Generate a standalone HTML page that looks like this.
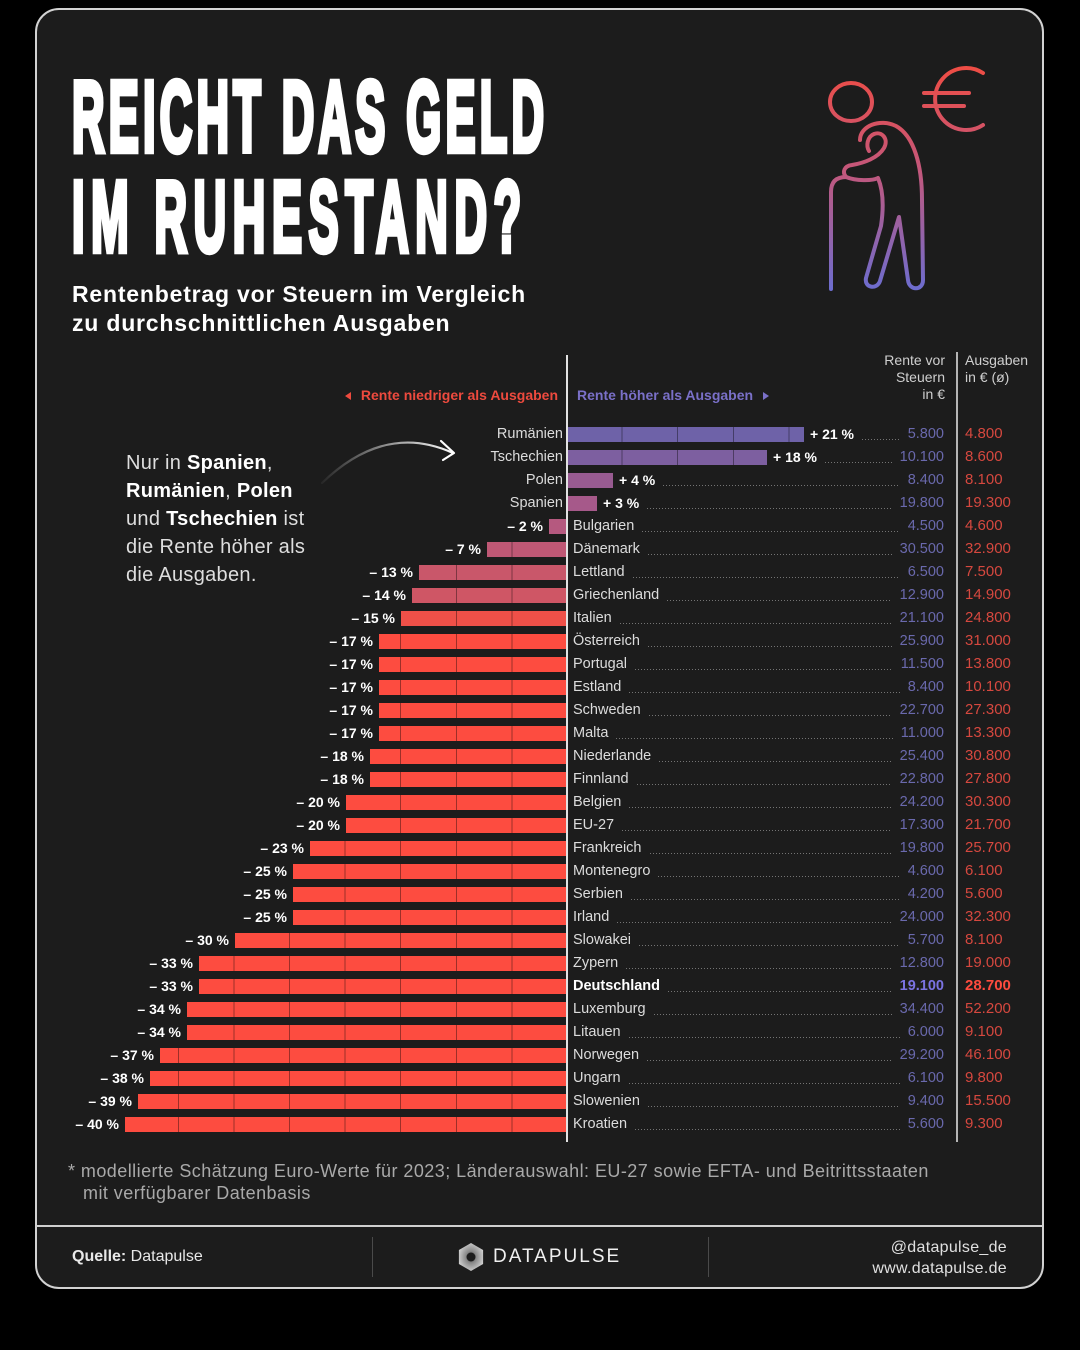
<!DOCTYPE html>
<html lang="de">
<head>
<meta charset="utf-8">
<style>
  html,body{margin:0;padding:0;}
  body{width:1080px;height:1350px;background:#000;position:relative;overflow:hidden;font-family:"Liberation Sans",sans-serif;color:#fff;}
  .card{position:absolute;left:35px;top:8px;width:1009px;height:1281px;box-sizing:border-box;border:2px solid #d2d2d2;border-radius:24px;background:#1c1c1c;}
  .abs{position:absolute;}
  .sub{position:absolute;left:72px;top:280px;font-size:23px;letter-spacing:0.8px;line-height:29px;font-weight:bold;color:#fff;white-space:nowrap;}
  .note{position:absolute;left:126px;top:449px;font-size:20px;letter-spacing:0.3px;line-height:28px;color:#dedede;white-space:nowrap;}
  .note b{color:#fff;}
  .hdr{position:absolute;top:352px;font-size:14px;line-height:17px;color:#cfcfcf;white-space:nowrap;}
  .leg{position:absolute;top:385px;height:20px;line-height:20px;font-size:14px;font-weight:bold;white-space:nowrap;}
  .tri-l{display:inline-block;width:0;height:0;border-top:4px solid transparent;border-bottom:4px solid transparent;border-right:6px solid #ee4a3e;margin-right:10px;vertical-align:0px;}
  .tri-r{display:inline-block;width:0;height:0;border-top:4px solid transparent;border-bottom:4px solid transparent;border-left:6px solid #7a70c8;margin-left:10px;vertical-align:0px;}
  .vline{position:absolute;left:566px;top:355px;width:1.5px;height:787px;background:#e2e2e2;z-index:3;}
  .vline2{position:absolute;left:956px;top:352px;width:1.5px;height:790px;background:#b5b5b5;}
  .bar{position:absolute;height:15px;}
  .bar.n{background-image:repeating-linear-gradient(to left,transparent 0,transparent 54.6px,rgba(0,0,0,.38) 54.6px,rgba(0,0,0,.38) 55.6px);}
  .bar.p{background-image:repeating-linear-gradient(to right,transparent 0,transparent 54.6px,rgba(0,0,0,.38) 54.6px,rgba(0,0,0,.38) 55.6px);}
  .pct{position:absolute;height:20px;line-height:20px;font-size:14px;font-weight:bold;color:#fff;white-space:nowrap;}
  .lr{position:absolute;left:573px;width:371px;height:20px;line-height:20px;display:flex;white-space:nowrap;font-size:14.5px;color:#dcdcdc;}
  .lr i{flex:1;margin:0 8px;height:20px;background:linear-gradient(to right,#747474 1px,transparent 1px) 0 15px/3px 1px repeat-x;}
  .lr b.pp{font-size:14px;color:#fff;}
  .lr .v1{color:#6a69ad;}
  .lbr{position:absolute;right:517px;height:20px;line-height:20px;font-size:14.5px;color:#dcdcdc;white-space:nowrap;}
  .v2{position:absolute;left:965px;height:20px;line-height:20px;font-size:15px;color:#d6483f;white-space:nowrap;}
  .de{font-weight:bold;color:#fff;}
  .de1{font-weight:bold;color:#7b73e2 !important;}
  .de2{font-weight:bold;color:#ff4b3e !important;}
  .foot{position:absolute;left:68px;top:1160px;font-size:18px;letter-spacing:0.45px;line-height:22px;color:#a9a9a9;white-space:nowrap;}
  .sep{position:absolute;left:36px;top:1225px;width:1007px;height:2px;background:#cfcfcf;}
  .fdiv{position:absolute;top:1237px;width:1px;height:40px;background:#4a4a4a;}
  .src{position:absolute;left:72px;top:1247px;font-size:16px;line-height:20px;color:#e8e8e8;white-space:nowrap;}
  .soc{position:absolute;right:73px;top:1237px;font-size:16px;letter-spacing:0.3px;line-height:21px;color:#e0e0e0;text-align:right;white-space:nowrap;}
  .logo{position:absolute;left:493px;top:1246px;font-size:19px;line-height:22px;letter-spacing:2px;color:#f0f0f0;white-space:nowrap;}
</style>
</head>
<body>
<div class="card"></div>

<!-- Title -->
<svg class="abs" style="left:0;top:0" width="1080" height="340" viewBox="0 0 1080 340">
  <text transform="translate(72,151) scale(0.45,1)" x="0" y="0" font-family="Liberation Sans, sans-serif" font-weight="bold" font-size="100" fill="#fff" stroke="#fff" stroke-width="5" vector-effect="non-scaling-stroke" textLength="1049" lengthAdjust="spacing">REICHT DAS GELD</text>
  <text transform="translate(72,251) scale(0.45,1)" x="0" y="0" font-family="Liberation Sans, sans-serif" font-weight="bold" font-size="100" fill="#fff" stroke="#fff" stroke-width="5" vector-effect="non-scaling-stroke" textLength="998" lengthAdjust="spacing">IM RUHESTAND?</text>
</svg>

<!-- Icon -->
<svg class="abs" style="left:0;top:0" width="1080" height="340" viewBox="0 0 1080 340">
  <defs>
    <linearGradient id="ig" gradientUnits="userSpaceOnUse" x1="0" y1="68" x2="0" y2="292">
      <stop offset="0" stop-color="#ee4d45"/>
      <stop offset="0.45" stop-color="#c4577a"/>
      <stop offset="1" stop-color="#6b6dd0"/>
    </linearGradient>
  </defs>
  <g fill="none" stroke="url(#ig)" stroke-width="4" stroke-linecap="round" stroke-linejoin="round">
    <ellipse cx="851" cy="102" rx="21" ry="19"/>
    <path d="M983,73 A31,31 0 1 0 983,125"/>
    <path d="M924,93 H969"/>
    <path d="M924,106 H964"/>
    <path d="M831,289 L831,192 C831,182 836,177 846,177"/>
    <path d="M846,177 C842,172 844,166 852,165 C864,163 878,158 884,148 C889,139 882,131 874,134 C867,137 866,146 869,151"/>
    <path d="M860,140 C860,126 880,118 896,126 C914,136 922,165 922,200 L923,280 C923,291 909,291 908,280 L899,217 L880,281 C877,290 864,288 866,278 L881,226 C884,206 883,190 878,178 C872,181 856,181 846,177"/>
  </g>
</svg>

<div class="sub">Rentenbetrag vor Steuern im Vergleich<br>zu durchschnittlichen Ausgaben</div>

<div class="note">Nur in <b>Spanien</b>,<br><b>Rumänien</b>, <b>Polen</b><br>und <b>Tschechien</b> ist<br>die Rente höher als<br>die Ausgaben.</div>

<!-- Arrow -->
<svg class="abs" style="left:0;top:0" width="1080" height="600" viewBox="0 0 1080 600">
  <defs>
    <linearGradient id="ag" gradientUnits="userSpaceOnUse" x1="322" y1="0" x2="455" y2="0">
      <stop offset="0" stop-color="#fff" stop-opacity="0.05"/>
      <stop offset="1" stop-color="#fff" stop-opacity="1"/>
    </linearGradient>
  </defs>
  <path d="M322,483 Q385,422 453,453" fill="none" stroke="url(#ag)" stroke-width="2.2" stroke-linecap="round"/>
  <path d="M441,441 L454,453 L443,460" fill="none" stroke="#fff" stroke-width="2.2" stroke-linecap="round" stroke-linejoin="round"/>
</svg>

<!-- Column headers -->
<div class="hdr" style="right:135px;text-align:right;">Rente vor<br>Steuern<br>in €</div>
<div class="hdr" style="left:965px;">Ausgaben<br>in € (ø)</div>
<div class="leg" style="right:522px;color:#ee4a3e;"><span class="tri-l"></span>Rente niedriger als Ausgaben</div>
<div class="leg" style="left:577px;color:#7a70c8;">Rente höher als Ausgaben<span class="tri-r"></span></div>

<div class="vline"></div>
<div class="vline2"></div>

<!-- Positive rows -->
<div class="lbr" style="top:424px">Rumänien</div>
<div class="bar p" style="top:426.5px;left:567px;width:237px;background-color:#6e62a8"></div>
<div class="lr" style="top:424px;left:810px;width:134px"><b class="pp">+ 21 %</b><i></i><span class="v1">5.800</span></div>
<div class="v2" style="top:424px">4.800</div>

<div class="lbr" style="top:447px">Tschechien</div>
<div class="bar p" style="top:449.5px;left:567px;width:200px;background-color:#7d5fa0"></div>
<div class="lr" style="top:447px;left:773px;width:171px"><b class="pp">+ 18 %</b><i></i><span class="v1">10.100</span></div>
<div class="v2" style="top:447px">8.600</div>

<div class="lbr" style="top:470px">Polen</div>
<div class="bar p" style="top:472.5px;left:567px;width:46px;background-color:#985b91"></div>
<div class="lr" style="top:470px;left:619px;width:325px"><b class="pp">+ 4 %</b><i></i><span class="v1">8.400</span></div>
<div class="v2" style="top:470px">8.100</div>

<div class="lbr" style="top:493px">Spanien</div>
<div class="bar p" style="top:495.5px;left:567px;width:30px;background-color:#a6598a"></div>
<div class="lr" style="top:493px;left:603px;width:341px"><b class="pp">+ 3 %</b><i></i><span class="v1">19.800</span></div>
<div class="v2" style="top:493px">19.300</div>

<!-- Negative rows -->
<div class="bar n" style="top:518.5px;left:549px;width:18px;background-color:#b5597f"></div>
<div class="pct" style="top:516px;right:537px">– 2 %</div>
<div class="lr" style="top:516px"><span>Bulgarien</span><i></i><span class="v1">4.500</span></div>
<div class="v2" style="top:516px">4.600</div>

<div class="bar n" style="top:541.5px;left:487px;width:80px;background-color:#bf5875"></div>
<div class="pct" style="top:539px;right:599px">– 7 %</div>
<div class="lr" style="top:539px"><span>Dänemark</span><i></i><span class="v1">30.500</span></div>
<div class="v2" style="top:539px">32.900</div>

<div class="bar n" style="top:564.5px;left:419px;width:148px;background-color:#c9576a"></div>
<div class="pct" style="top:562px;right:667px">– 13 %</div>
<div class="lr" style="top:562px"><span>Lettland</span><i></i><span class="v1">6.500</span></div>
<div class="v2" style="top:562px">7.500</div>

<div class="bar n" style="top:587.5px;left:412px;width:155px;background-color:#cf5665"></div>
<div class="pct" style="top:585px;right:674px">– 14 %</div>
<div class="lr" style="top:585px"><span>Griechenland</span><i></i><span class="v1">12.900</span></div>
<div class="v2" style="top:585px">14.900</div>

<div class="bar n" style="top:610.5px;left:401px;width:166px;background-color:#ef5048"></div>
<div class="pct" style="top:608px;right:685px">– 15 %</div>
<div class="lr" style="top:608px"><span>Italien</span><i></i><span class="v1">21.100</span></div>
<div class="v2" style="top:608px">24.800</div>

<div class="bar n" style="top:633.5px;left:379px;width:188px;background-color:#fd4c40"></div>
<div class="pct" style="top:631px;right:707px">– 17 %</div>
<div class="lr" style="top:631px"><span>Österreich</span><i></i><span class="v1">25.900</span></div>
<div class="v2" style="top:631px">31.000</div>

<div class="bar n" style="top:656.5px;left:379px;width:188px;background-color:#fd4c40"></div>
<div class="pct" style="top:654px;right:707px">– 17 %</div>
<div class="lr" style="top:654px"><span>Portugal</span><i></i><span class="v1">11.500</span></div>
<div class="v2" style="top:654px">13.800</div>

<div class="bar n" style="top:679.5px;left:379px;width:188px;background-color:#fd4c40"></div>
<div class="pct" style="top:677px;right:707px">– 17 %</div>
<div class="lr" style="top:677px"><span>Estland</span><i></i><span class="v1">8.400</span></div>
<div class="v2" style="top:677px">10.100</div>

<div class="bar n" style="top:702.5px;left:379px;width:188px;background-color:#fd4c40"></div>
<div class="pct" style="top:700px;right:707px">– 17 %</div>
<div class="lr" style="top:700px"><span>Schweden</span><i></i><span class="v1">22.700</span></div>
<div class="v2" style="top:700px">27.300</div>

<div class="bar n" style="top:725.5px;left:379px;width:188px;background-color:#fd4c40"></div>
<div class="pct" style="top:723px;right:707px">– 17 %</div>
<div class="lr" style="top:723px"><span>Malta</span><i></i><span class="v1">11.000</span></div>
<div class="v2" style="top:723px">13.300</div>

<div class="bar n" style="top:748.5px;left:370px;width:197px;background-color:#fd4c40"></div>
<div class="pct" style="top:746px;right:716px">– 18 %</div>
<div class="lr" style="top:746px"><span>Niederlande</span><i></i><span class="v1">25.400</span></div>
<div class="v2" style="top:746px">30.800</div>

<div class="bar n" style="top:771.5px;left:370px;width:197px;background-color:#fd4c40"></div>
<div class="pct" style="top:769px;right:716px">– 18 %</div>
<div class="lr" style="top:769px"><span>Finnland</span><i></i><span class="v1">22.800</span></div>
<div class="v2" style="top:769px">27.800</div>

<div class="bar n" style="top:794.5px;left:346px;width:221px;background-color:#fd4c40"></div>
<div class="pct" style="top:792px;right:740px">– 20 %</div>
<div class="lr" style="top:792px"><span>Belgien</span><i></i><span class="v1">24.200</span></div>
<div class="v2" style="top:792px">30.300</div>

<div class="bar n" style="top:817.5px;left:346px;width:221px;background-color:#fd4c40"></div>
<div class="pct" style="top:815px;right:740px">– 20 %</div>
<div class="lr" style="top:815px"><span>EU-27</span><i></i><span class="v1">17.300</span></div>
<div class="v2" style="top:815px">21.700</div>

<div class="bar n" style="top:840.5px;left:310px;width:257px;background-color:#fd4c40"></div>
<div class="pct" style="top:838px;right:776px">– 23 %</div>
<div class="lr" style="top:838px"><span>Frankreich</span><i></i><span class="v1">19.800</span></div>
<div class="v2" style="top:838px">25.700</div>

<div class="bar n" style="top:863.5px;left:293px;width:274px;background-color:#fd4c40"></div>
<div class="pct" style="top:861px;right:793px">– 25 %</div>
<div class="lr" style="top:861px"><span>Montenegro</span><i></i><span class="v1">4.600</span></div>
<div class="v2" style="top:861px">6.100</div>

<div class="bar n" style="top:886.5px;left:293px;width:274px;background-color:#fd4c40"></div>
<div class="pct" style="top:884px;right:793px">– 25 %</div>
<div class="lr" style="top:884px"><span>Serbien</span><i></i><span class="v1">4.200</span></div>
<div class="v2" style="top:884px">5.600</div>

<div class="bar n" style="top:909.5px;left:293px;width:274px;background-color:#fd4c40"></div>
<div class="pct" style="top:907px;right:793px">– 25 %</div>
<div class="lr" style="top:907px"><span>Irland</span><i></i><span class="v1">24.000</span></div>
<div class="v2" style="top:907px">32.300</div>

<div class="bar n" style="top:932.5px;left:235px;width:332px;background-color:#fd4c40"></div>
<div class="pct" style="top:930px;right:851px">– 30 %</div>
<div class="lr" style="top:930px"><span>Slowakei</span><i></i><span class="v1">5.700</span></div>
<div class="v2" style="top:930px">8.100</div>

<div class="bar n" style="top:955.5px;left:199px;width:368px;background-color:#fd4c40"></div>
<div class="pct" style="top:953px;right:887px">– 33 %</div>
<div class="lr" style="top:953px"><span>Zypern</span><i></i><span class="v1">12.800</span></div>
<div class="v2" style="top:953px">19.000</div>

<div class="bar n" style="top:978.5px;left:199px;width:368px;background-color:#fd4c40"></div>
<div class="pct" style="top:976px;right:887px">– 33 %</div>
<div class="lr" style="top:976px"><span class="de">Deutschland</span><i></i><span class="v1 de1">19.100</span></div>
<div class="v2 de2" style="top:976px">28.700</div>

<div class="bar n" style="top:1001.5px;left:187px;width:380px;background-color:#fd4c40"></div>
<div class="pct" style="top:999px;right:899px">– 34 %</div>
<div class="lr" style="top:999px"><span>Luxemburg</span><i></i><span class="v1">34.400</span></div>
<div class="v2" style="top:999px">52.200</div>

<div class="bar n" style="top:1024.5px;left:187px;width:380px;background-color:#fd4c40"></div>
<div class="pct" style="top:1022px;right:899px">– 34 %</div>
<div class="lr" style="top:1022px"><span>Litauen</span><i></i><span class="v1">6.000</span></div>
<div class="v2" style="top:1022px">9.100</div>

<div class="bar n" style="top:1047.5px;left:160px;width:407px;background-color:#fd4c40"></div>
<div class="pct" style="top:1045px;right:926px">– 37 %</div>
<div class="lr" style="top:1045px"><span>Norwegen</span><i></i><span class="v1">29.200</span></div>
<div class="v2" style="top:1045px">46.100</div>

<div class="bar n" style="top:1070.5px;left:150px;width:417px;background-color:#fd4c40"></div>
<div class="pct" style="top:1068px;right:936px">– 38 %</div>
<div class="lr" style="top:1068px"><span>Ungarn</span><i></i><span class="v1">6.100</span></div>
<div class="v2" style="top:1068px">9.800</div>

<div class="bar n" style="top:1093.5px;left:138px;width:429px;background-color:#fd4c40"></div>
<div class="pct" style="top:1091px;right:948px">– 39 %</div>
<div class="lr" style="top:1091px"><span>Slowenien</span><i></i><span class="v1">9.400</span></div>
<div class="v2" style="top:1091px">15.500</div>

<div class="bar n" style="top:1116.5px;left:125px;width:442px;background-color:#fd4c40"></div>
<div class="pct" style="top:1114px;right:961px">– 40 %</div>
<div class="lr" style="top:1114px"><span>Kroatien</span><i></i><span class="v1">5.600</span></div>
<div class="v2" style="top:1114px">9.300</div>

<!-- Footnote -->
<div class="foot">* modellierte Schätzung Euro-Werte für 2023; Länderauswahl: EU-27 sowie EFTA- und Beitrittsstaaten<br><span style="padding-left:15px">mit verfügbarer Datenbasis</span></div>

<!-- Footer -->
<div class="sep"></div>
<div class="fdiv" style="left:372px"></div>
<div class="fdiv" style="left:708px"></div>
<div class="src"><b>Quelle:</b> Datapulse</div>
<svg class="abs" style="left:455px;top:1241px" width="32" height="32" viewBox="455 1241 32 32">
  <defs>
    <radialGradient id="lg" cx="0.5" cy="0.5" r="0.6">
      <stop offset="0" stop-color="#333"/>
      <stop offset="0.35" stop-color="#888"/>
      <stop offset="1" stop-color="#ddd"/>
    </radialGradient>
  </defs>
  <polygon points="471,1243 483.1,1250 483.1,1264 471,1271 458.9,1264 458.9,1250" fill="url(#lg)"/>
  <circle cx="471" cy="1257" r="4.5" fill="#1c1c1c"/>
</svg>
<div class="logo">DATAPULSE</div>
<div class="soc">@datapulse_de<br>www.datapulse.de</div>
</body>
</html>
